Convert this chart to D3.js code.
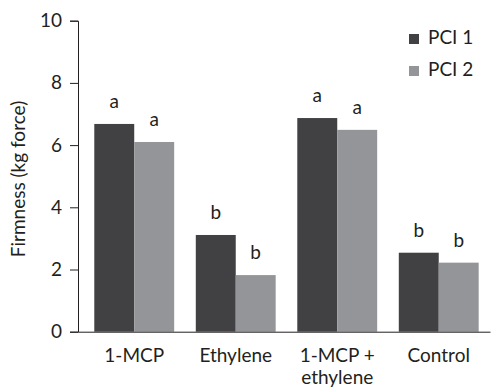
<!DOCTYPE html>
<html>
<head>
<meta charset="utf-8">
<script src="https://cdn.jsdelivr.net/npm/d3@7"></script>
<style>
  body { margin: 0; background: #fff; }
  text { font-family: Lato, "Open Sans", sans-serif; fill: #231f20; }
</style>
</head>
<body>
<script>
"use strict";

// treatments and firmness (kg force) per PCI
var categories = ["1-MCP", "Ethylene", "1-MCP + ethylene", "Control"];
var labelLines = [["1-MCP"], ["Ethylene"], ["1-MCP +", "ethylene"], ["Control"]];
var series = ["PCI 1", "PCI 2"];
var pci1 = [6.68, 3.11, 6.87, 2.54];
var pci2 = [6.10, 1.82, 6.49, 2.22];
var letters1 = ["a", "b", "a", "b"];
var letters2 = ["a", "b", "a", "b"];
var yTicks = [0, 2, 4, 6, 8, 10];
var colors = ["#414042", "#939598"];

window.onload = function() {
  var width = 491, height = 388;
  var fs = "19px";
  var svg = d3.select("body").append("svg")
    .attr("width", width)
    .attr("height", height);

  var x = d3.scaleBand()
    .domain(categories)
    .range([78, 490])
    .paddingInner(0.213)
    .paddingOuter(0.136)
    .align(0.59);
  var xs = d3.scaleBand().domain(series).range([0, x.bandwidth()]);
  var y = d3.scaleLinear().domain([0, 10]).range([331.7, 20.7]);

  var rows = categories.map(function(c, i) {
    return {cat: c, vals: [pci1[i], pci2[i]], lets: [letters1[i], letters2[i]]};
  });

  var g = svg.selectAll("g.grp").data(rows).enter().append("g")
    .attr("class", "grp")
    .attr("transform", function(d) { return "translate(" + x(d.cat) + ",0)"; });

  series.forEach(function(s, k) {
    g.append("rect")
      .attr("x", xs(s))
      .attr("width", xs.bandwidth())
      .attr("y", function(d) { return y(d.vals[k]); })
      .attr("height", function(d) { return y(0) - y(d.vals[k]); })
      .attr("fill", colors[k]);
    g.append("text")
      .attr("x", xs(s) + xs.bandwidth() / 2)
      .attr("y", function(d) { return y(d.vals[k]) - 16; })
      .attr("text-anchor", "middle")
      .style("font-size", fs)
      .text(function(d) { return d.lets[k]; });
  });

  // y axis
  var yAxis = svg.append("g")
    .attr("transform", "translate(78,0)")
    .call(d3.axisLeft(y).tickValues(yTicks).tickSizeOuter(0).tickSize(8).tickPadding(8));
  yAxis.select(".domain").attr("stroke", "#231f20");
  yAxis.selectAll(".tick line").attr("stroke", "#231f20");
  yAxis.selectAll(".tick text").style("font-size", fs).attr("fill", "#231f20");

  // x axis baseline
  var xAxis = svg.append("g")
    .attr("transform", "translate(0," + y(0) + ")")
    .call(d3.axisBottom(x).tickSize(0).tickSizeOuter(0).tickFormat(""));
  xAxis.select(".domain").attr("stroke", "#231f20");

  var xl = svg.selectAll("text.xl").data(categories).enter().append("text")
    .attr("class", "xl")
    .attr("text-anchor", "middle")
    .attr("x", function(d) { return x(d) + x.bandwidth() / 2; })
    .attr("y", 362)
    .style("font-size", fs);
  xl.each(function(d, i) {
    var t = d3.select(this);
    labelLines[i].forEach(function(line, j) {
      t.append("tspan")
        .attr("x", x(d) + x.bandwidth() / 2)
        .attr("dy", j === 0 ? 0 : 22)
        .text(line);
    });
  });

  svg.append("text")
    .attr("transform", "translate(25,179) rotate(-90)")
    .attr("text-anchor", "middle")
    .style("font-size", fs)
    .text("Firmness (kg force)");

  // legend
  var leg = svg.selectAll("g.leg").data(series).enter().append("g")
    .attr("class", "leg")
    .attr("transform", function(d, i) { return "translate(409," + (34 + i * 32) + ")"; });
  leg.append("rect")
    .attr("width", 10).attr("height", 10)
    .attr("fill", function(d, i) { return colors[i]; });
  leg.append("text")
    .attr("x", 19).attr("y", 10)
    .style("font-size", fs)
    .text(function(d) { return d; });
};
</script>
</body>
</html>
